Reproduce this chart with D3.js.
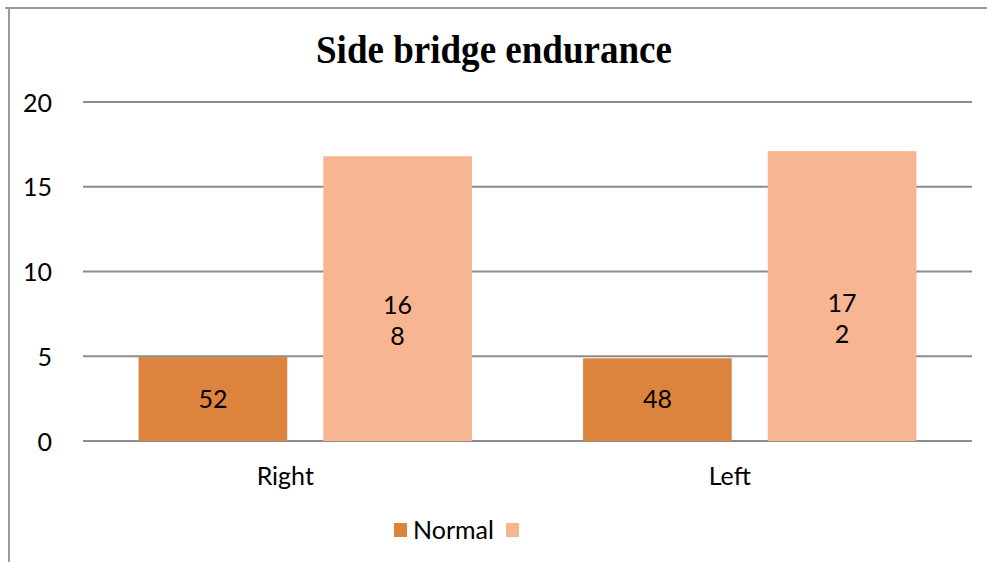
<!doctype html>
<html lang="en">
<head>
<meta charset="UTF-8">
<title>Side bridge endurance</title>
<script src="https://cdn.jsdelivr.net/npm/d3@7"></script>
<style>
  html, body { margin: 0; padding: 0; background: #fff; }
  svg { display: block; }
</style>
</head>
<body>
<script>
  // data
  var categories = ["Right", "Left"];
  var seriesNames = ["Normal", ""];
  var normalValues = [4.95, 4.88];
  var otherValues = [16.8, 17.1];
  var normalLabels = [["52"], ["48"]];
  var otherLabels = [["16", "8"], ["17", "2"]];
  var yTicks = [0, 5, 10, 15, 20];
  var colors = ["#dc843d", "#f8b592"];

  var width = 987, height = 562;
  var plot = {left: 83, right: 972, top: 102, bottom: 441};

  var svg = d3.select("body").append("svg")
      .attr("width", width)
      .attr("height", height);

  // frame
  svg.append("line").attr("x1", 5).attr("x2", width).attr("y1", 8).attr("y2", 8)
      .attr("stroke", "#9a9a9a").attr("stroke-width", 2);
  svg.append("line").attr("x1", 9).attr("x2", 9).attr("y1", 8).attr("y2", height)
      .attr("stroke", "#9a9a9a").attr("stroke-width", 2);

  // title
  svg.append("text")
      .attr("x", 494).attr("y", 63)
      .attr("text-anchor", "middle")
      .attr("font-family", "Liberation Serif, serif")
      .attr("font-weight", "bold")
      .attr("font-size", 40)
      .attr("textLength", 356)
      .attr("lengthAdjust", "spacingAndGlyphs")
      .text("Side bridge endurance");

  var y = d3.scaleLinear().domain([0, 20]).range([plot.bottom, plot.top]);

  var x0 = d3.scaleBand()
      .domain(categories)
      .range([plot.left, plot.right])
      .paddingInner(0.25)
      .paddingOuter(0.125);

  var x1 = d3.scaleBand()
      .domain([0, 1])
      .range([0, x0.bandwidth()])
      .paddingInner(0.195);

  // gridlines
  svg.append("g").selectAll("line")
      .data(yTicks)
      .enter().append("line")
      .attr("x1", plot.left).attr("x2", plot.right)
      .attr("y1", function(d) { return y(d); })
      .attr("y2", function(d) { return y(d); })
      .attr("stroke", "#8c8c8c")
      .attr("stroke-width", 2);

  // y axis labels
  var yAxis = d3.axisLeft(y).tickValues(yTicks).tickSize(0).tickPadding(0);
  var yg = svg.append("g")
      .attr("transform", "translate(52,0)")
      .call(yAxis);
  yg.select(".domain").remove();
  yg.selectAll("text")
      .attr("font-family", "Lato, sans-serif")
      .attr("font-size", 25)
      .attr("fill", "#000")
      .attr("dy", "0.36em");

  // bars
  var rows = categories.map(function(c, i) {
    return {cat: c, values: [normalValues[i], otherValues[i]], labels: [normalLabels[i], otherLabels[i]]};
  });

  var group = svg.selectAll(".cat")
      .data(rows)
      .enter().append("g")
      .attr("class", "cat")
      .attr("transform", function(d) { return "translate(" + x0(d.cat) + ",0)"; });

  group.selectAll("rect")
      .data(function(d) { return d.values.map(function(v, k) { return {k: k, v: v}; }); })
      .enter().append("rect")
      .attr("x", function(d) { return x1(d.k); })
      .attr("width", x1.bandwidth())
      .attr("y", function(d) { return y(d.v); })
      .attr("height", function(d) { return y(0) - y(d.v); })
      .attr("fill", function(d) { return colors[d.k]; });

  // data labels
  group.selectAll(".lbl")
      .data(function(d) { return d.values.map(function(v, k) { return {k: k, v: v, lines: d.labels[k]}; }); })
      .enter().append("text")
      .attr("class", "lbl")
      .attr("text-anchor", "middle")
      .attr("font-family", "Lato, sans-serif")
      .attr("font-size", 25)
      .attr("fill", "#000")
      .each(function(d) {
        var mid = (y(d.v) + y(0)) / 2;
        var start = d.lines.length > 1 ? mid + 7 : mid;
        var t = d3.select(this);
        d.lines.forEach(function(s, i) {
          t.append("tspan")
              .attr("x", x1(d.k) + x1.bandwidth() / 2)
              .attr("y", start + i * 31)
              .attr("dy", "0.35em")
              .text(s);
        });
      });

  // category labels
  svg.append("g").selectAll("text")
      .data(categories)
      .enter().append("text")
      .attr("x", function(d) { return x0(d) + x0.bandwidth() / 2 - 20; })
      .attr("y", 485)
      .attr("text-anchor", "middle")
      .attr("font-family", "Lato, sans-serif")
      .attr("font-size", 25)
      .attr("fill", "#000")
      .text(function(d) { return d; });

  // legend
  var legend = svg.append("g");
  var legendX = [394, 506];
  seriesNames.forEach(function(name, i) {
    legend.append("rect")
        .attr("x", legendX[i]).attr("y", 523)
        .attr("width", 13).attr("height", 14)
        .attr("fill", colors[i]);
    legend.append("text")
        .attr("x", legendX[i] + 19).attr("y", 539)
        .attr("font-family", "Lato, sans-serif")
        .attr("font-size", 25)
        .attr("fill", "#000")
        .text(name);
  });
</script>
</body>
</html>
